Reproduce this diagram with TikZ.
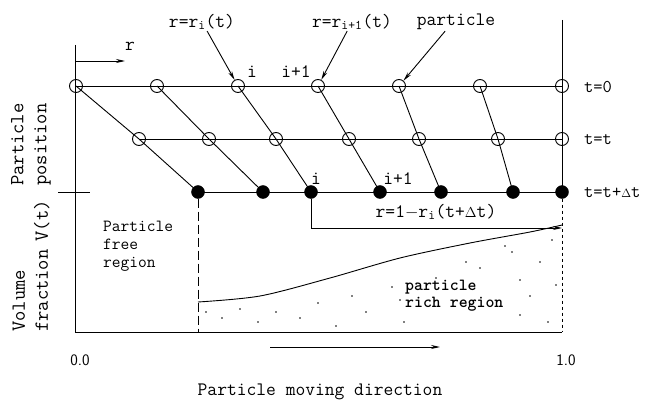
\documentclass[tikz,border=0pt]{standalone}
\usepackage{tikz}
\usetikzlibrary{arrows.meta,positioning}
\tikzset{
  opencirc/.style={circle,draw,fill=none,minimum size=13pt,inner sep=0pt,line width=0.9pt},
  fullcirc/.style={circle,draw,fill=black,minimum size=13pt,inner sep=0pt},
  track/.style={line width=0.9pt},
  ptr/.style={-{Stealth[length=9pt,width=4pt]},line width=0.9pt},
  lbl/.style={font=\fontsize{19}{21}\selectfont\ttfamily,inner sep=1pt},
  tlbl/.style={font=\fontsize{18}{20}\selectfont\ttfamily,inner sep=0pt,anchor=west},
  axtitle/.style={font=\fontsize{20}{23}\selectfont\ttfamily,align=left,rotate=90,
                  inner sep=0pt,anchor=west},
  region/.style={font=\fontsize{17}{18}\selectfont\ttfamily,align=left,inner sep=0pt},
  numlbl/.style={font=\fontsize{16}{18}\selectfont\sffamily,inner sep=1pt},
}
\begin{document}
\begin{tikzpicture}[x=1pt,y=-1pt]
\useasboundingbox (0,0) rectangle (648,404);
% particle rows at t=0, t=t, t=t+dt
\foreach \n/\xa/\xb/\xc in {0/76/139/198,1/157/209/263,2/238/276/311,3/318/349/380,
                            4/399/419/441,5/480/498/513,6/562/562/562}{
  \node[opencirc] (a\n) at (\xa,86) {};
  \node[opencirc] (b\n) at (\xb,139) {};
  \node[fullcirc] (c\n) at (\xc,192) {};
  \draw[track] (a\n.center) -- (b\n.center) -- (c\n.center);
}
\draw[track] (a0.center) -- (a6.center);
\draw[track] (b0.center) -- (b6.center);
\draw[track] (c0.center) -- (c6.center);
% axes
\coordinate (ytop) at (75,45);
\coordinate (yorg) at (75,332);
\coordinate (xend) at (562,332);
\coordinate (rtop) at (562,20);
\coordinate (tk0) at (58,192);
\coordinate (tk1) at (90,192);
\draw[track] (ytop) -- (yorg) -- (xend);
\draw[track] (rtop) -- (c6.center);
\draw[track,dashed] (c6) -- (xend);
\draw[track] (tk0) -- (tk1);
\draw[track,dash pattern=on 9pt off 4pt] (c0) -- (c0 |- yorg);
% r direction
\coordinate (r0) at (76,61);
\coordinate (r1) at (125,61);
\draw[ptr] (r0) -- (r1);
\node[lbl] (rlab) at (130,46) {r};
% labels on top row
\node[lbl] (lri) at (202,22) {r=r\textsubscript{i}(t)};
\node[lbl] (lrj) at (352,22) {r=r\textsubscript{i+1}(t)};
\node[lbl] (lpart) at (456,22) {particle};
\draw[ptr] (lri) -- (a2);
\draw[ptr] (lrj) -- (a3);
\draw[ptr] (lpart.220) -- (a4);
\node[lbl] (ia) at (252,72) {i};
\node[lbl] (ja) at (296,72) {i+1};
\node[lbl] (ic) at (316,179) {i};
\node[lbl] (jc) at (398,179) {i+1};
\node[tlbl] (t0) at (584,87) {t=0};
\node[tlbl] (t1) at (584,140) {t=t};
\node[tlbl] (t2) at (584,193) {t=t+$\scriptstyle\Delta$t};
% distance bracket
\coordinate (bk) at (562,228);
\draw[ptr] (c2) |- (bk);
\node[lbl] (dist) at (436,212) {r=1$-$r\textsubscript{i}(t+$\scriptstyle\Delta$t)};
% volume fraction
\draw[track] plot[smooth] coordinates {(198,302) (260,296) (330,278) (400,258)
  (470,243) (530,232) (562,225)};
\foreach \p in {(206,312),(222,318),(240,309),(258,322),(276,312),(300,318),
  (318,303),(336,326),(352,296),(366,312),(392,287),(400,300),(404,322),
  (436,278),(480,268),(512,252),(520,280),(530,296),(520,315),(540,262),
  (548,322),(552,240),(556,285),(505,246),(466,262)}
  \fill \p circle (0.9);
\node[region,anchor=west] (free) at (103,246) {Particle\\free\\region};
\node[region,anchor=west,font=\fontsize{17}{17}\selectfont\ttfamily\bfseries] (rich) at (405,296) {particle\\rich region};
% axis titles
\node[axtitle] (ypos) at (31,186) {Particle\\position};
\node[axtitle] (yvol) at (31,332) {Volume\\fraction\hspace{8pt}V(t)};
\node[numlbl] (x0) at (80,360) {0.0};
\node[numlbl] (x1) at (566,360) {1.0};
\coordinate (mv0) at (270,347);
\coordinate (mv1) at (440,347);
\draw[ptr] (mv0) -- (mv1);
\node[lbl] (xlab) at (320,392) {Particle moving direction};
\end{tikzpicture}
\end{document}
